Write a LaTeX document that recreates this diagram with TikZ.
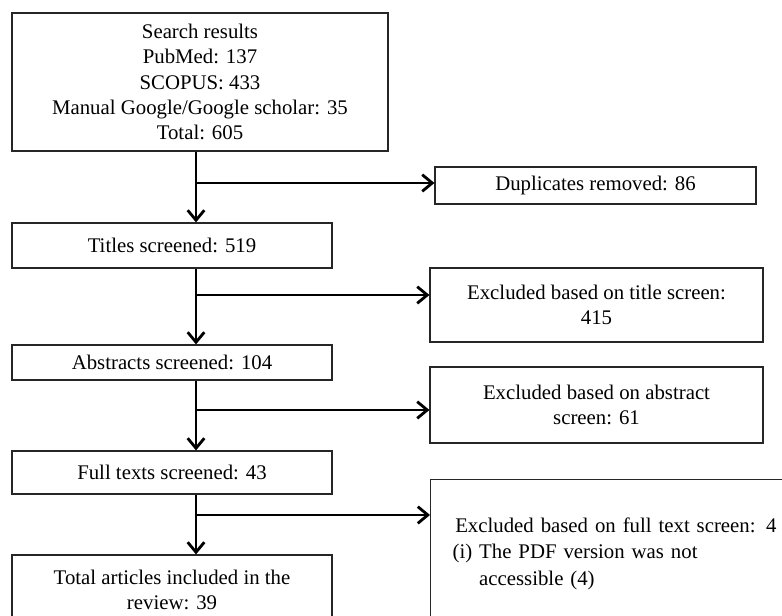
\documentclass[tikz,border=0pt]{standalone}
\usepackage{fontspec}
\setmainfont{Liberation Serif}
\usetikzlibrary{arrows.meta}

\begin{document}
\begin{tikzpicture}[x=0.75pt,y=0.75pt,yscale=-1,xscale=1,
  box/.style={draw=black!85, line width=0.9pt, inner sep=1pt, align=center, font=\fontsize{15.6}{19}\selectfont},
  flow/.style={line width=2.1pt, -{Straight Barb[length=7.5pt,width=12.5pt,line width=2.1pt]}}]
%set diagram to the 782 x 616 frame, boxes at the edges are cut off
\clip (0,0) rectangle (782,616);

%Shape: Rectangle [search]
\node [box, minimum width=282pt, minimum height=103.5pt] (search) at (200,82) {Search results\\PubMed: 137\\SCOPUS: 433\\Manual Google/Google scholar: 35\\Total: 605};
%Shape: Rectangle [titles]
\node [box, minimum width=240pt, minimum height=33.75pt] (titles) at (172,245.5) {Titles screened: 519};
%Shape: Rectangle [abstracts]
\node [box, minimum width=240pt, minimum height=26.25pt] (abstracts) at (172,362.5) {Abstracts screened: 104};
%Shape: Rectangle [fulltexts]
\node [box, minimum width=240pt, minimum height=32.25pt] (fulltexts) at (172,472.5) {Full texts screened: 43};
%Shape: Rectangle [included]
\node [box, minimum width=240pt, minimum height=52.5pt] (included) at (172,590) {Total articles included in the\\review: 39};

%Shape: Rectangle [duplicates]
\node [box, minimum width=240.75pt, minimum height=27.75pt] (duplicates) at (595.5,185.5) {Duplicates removed: 86};
%Shape: Rectangle [exctitle]
\node [box, minimum width=249.75pt, minimum height=55.5pt] (exctitle) at (596.5,305) {Excluded based on title screen:\\415};
%Shape: Rectangle [excabstract]
\node [box, minimum width=249.75pt, minimum height=57pt] (excabstract) at (596.5,405) {Excluded based on abstract\\screen: 61};
%Shape: Rectangle [excfull]
\node [box, anchor=north west, align=left, inner xsep=16.5pt, text width=244.5pt, minimum height=111pt, font=\fontsize{15.6}{20}\selectfont] (excfull) at (430,479) {\hspace*{2pt}Excluded based on full text screen: 4\\(i) The PDF version was not\\\phantom{(i) }accessible (4)};

% Branch points
\coordinate (j1) at (196,183);
\coordinate (j2) at (196,295);
\coordinate (j3) at (196,410);
\coordinate (j4) at (196,515);

% Arrows
\draw [flow] (search.south -| j1) -- (titles.north -| j1);
\draw [flow] (j1) -- (j1 -| duplicates.west);
\draw [flow] (titles.south -| j2) -- (abstracts.north -| j2);
\draw [flow] (j2) -- (j2 -| exctitle.west);
\draw [flow] (abstracts.south -| j3) -- (fulltexts.north -| j3);
\draw [flow] (j3) -- (j3 -| excabstract.west);
\draw [flow] (fulltexts.south -| j4) -- (included.north -| j4);
\draw [flow] (j4) -- (j4 -| excfull.west);

\end{tikzpicture}
\end{document}
